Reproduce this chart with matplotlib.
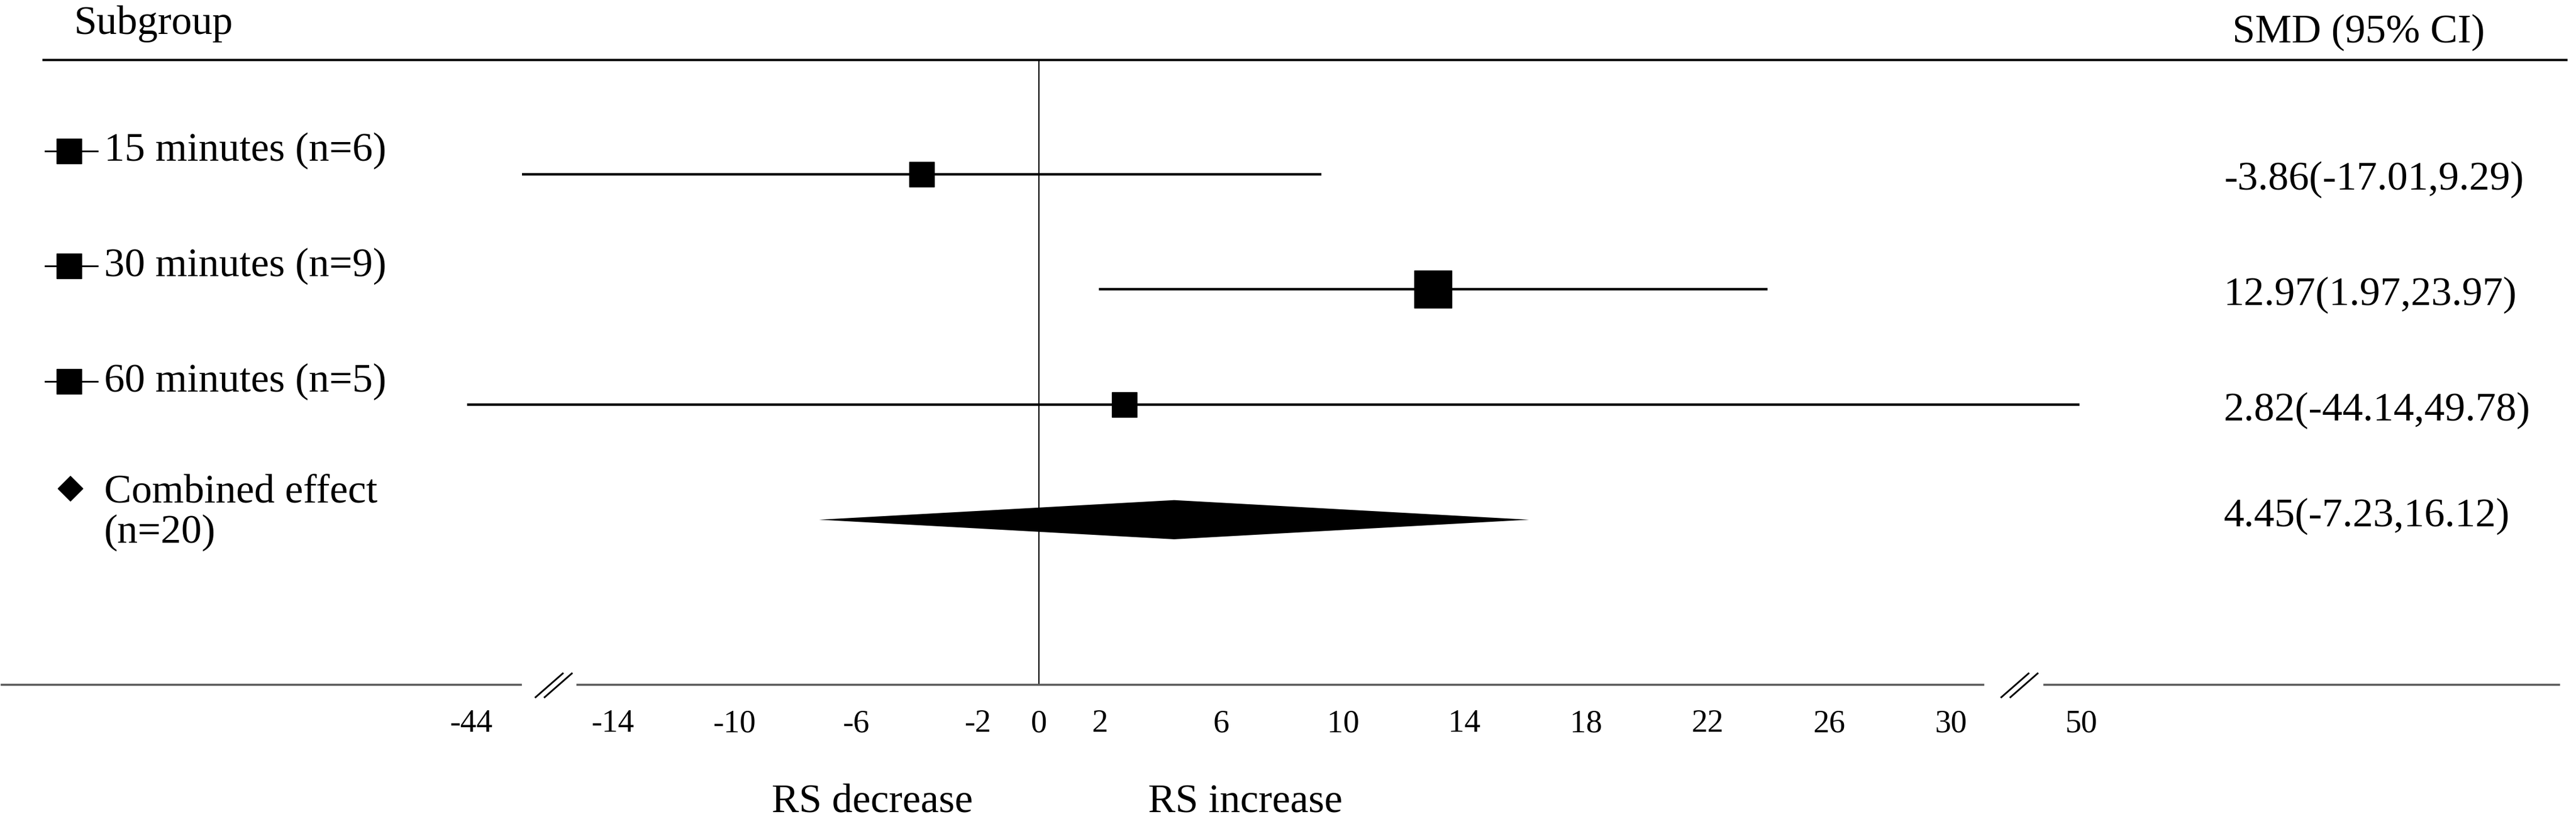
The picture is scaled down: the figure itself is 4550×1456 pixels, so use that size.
import numpy as np
import matplotlib
matplotlib.use("Agg")
import matplotlib.pyplot as plt
from matplotlib.ticker import NullLocator

plt.rcParams['font.family'] = ['Liberation Serif', 'DejaVu Serif']

# data
subgroups = ["15 minutes (n=6)", "30 minutes (n=9)", "60 minutes (n=5)"]
smd = [-3.86, 12.97, 2.82]
ci_low = [-17.01, 1.97, -44.14]
ci_high = [9.29, 23.97, 49.78]

pooled_label = "Combined effect\n(n=20)"
pooled_smd = 4.45
pooled_low = -7.23
pooled_high = 16.12

tick_values = [-44, -14, -10, -6, -2, 0, 2, 6, 10, 14, 18, 22, 26, 30, 50]
side_labels = ["RS decrease", "RS increase"]

# layout (pixels of the 4550x1456 picture)
W, H = 4550, 1456
ZERO_PX, PX_PER_UNIT = 1835, 53.7
AX_TOP, AX_BOTTOM = 106, 1210
ROW0_PX, ROW_STEP = 307.5, 203.6
FS = 52


def px_to_u(px):
    return (px - ZERO_PX) / PX_PER_UNIT


# broken axis: -44 and 50 get squeezed in beside the breaks
knot_data = np.array([-1044, -44, -17, 30, 50, 1050])
knot_u = np.array([px_to_u(833) - 1000, px_to_u(833), -17, 30,
                   px_to_u(3676), px_to_u(3676) + 1000])


def fwd(x):
    return np.interp(x, knot_data, knot_u)


def inv(u):
    return np.interp(u, knot_u, knot_data)


def fx(px):
    return px / W


def fy(py):
    return 1 - py / H


fig = plt.figure(figsize=(W / 100, H / 100), dpi=100)
ax = fig.add_axes([0, fy(AX_BOTTOM), 1, (AX_BOTTOM - AX_TOP) / H])
ax.set_xscale('function', functions=(fwd, inv))
ax.set_xlim(inv(px_to_u(0)), inv(px_to_u(W)))
ax.set_ylim((AX_BOTTOM - ROW0_PX) / ROW_STEP, (AX_TOP - ROW0_PX) / ROW_STEP)

box_pt = [31.5, 48, 32]  # box size per subgroup (points)

for i in range(len(subgroups)):
    ax.plot([ci_low[i], ci_high[i]], [i, i], color='black', lw=3.2,
            solid_capstyle='butt')
    ax.plot(smd[i], i, marker='s', ms=box_pt[i], color='black', lw=0)

r = len(subgroups)
h = 0.17
ax.fill([pooled_low, pooled_smd, pooled_high, pooled_smd],
        [r, r - h, r, r + h], color='black', lw=0)

ax.axvline(0, color='black', lw=1.6)

for s in ax.spines.values():
    s.set_visible(False)
ax.set_yticks([])
ax.set_xticks(tick_values)
ax.set_xticklabels([str(t) for t in tick_values])
ax.xaxis.set_minor_locator(NullLocator())
ax.tick_params(axis='x', length=0, pad=31, labelsize=41)

# left column
tr = ax.get_yaxis_transform()
for i, name in enumerate(subgroups):
    y = i - 0.2
    ax.plot([fx(80), fx(172)], [y, y], transform=tr, color='black', lw=2.2,
            clip_on=False)
    ax.plot(fx(122), y, transform=tr, marker='s', ms=32, color='black',
            clip_on=False)
    ax.text(fx(184), y, name, transform=tr, va='center', ha='left', fontsize=FS)

ax.plot(fx(124), r - 0.27, transform=tr, marker='D', ms=22, color='black',
        clip_on=False)
ax.text(fx(184), r - 0.06, pooled_label, transform=tr, va='center', ha='left',
        fontsize=FS, linespacing=1.1)

# right column
for i in range(len(subgroups)):
    ax.text(fx(3928), i + 0.05, f"{smd[i]:.2f}({ci_low[i]:.2f},{ci_high[i]:.2f})",
            transform=tr, va='center', ha='left', fontsize=FS)
ax.text(fx(3928), r - 0.03, f"{pooled_smd:.2f}({pooled_low:.2f},{pooled_high:.2f})",
        transform=tr, va='center', ha='left', fontsize=FS)

# headers
fig.text(fx(130), fy(60), "Subgroup", va='baseline', ha='left', fontsize=FS)
fig.text(fx(3943), fy(75), "SMD (95% CI)", va='baseline', ha='left', fontsize=FS)

# rules
ax.plot([fx(77), fx(4533)], [1, 1], transform=ax.transAxes, color='black',
        lw=3, clip_on=False)
for a, b in [(3, 920), (1020, 3503), (3611, 4520)]:
    ax.plot([fx(a), fx(b)], [0, 0], transform=ax.transAxes, color='#5a5a5a',
            lw=2.6, clip_on=False)
for x0 in [946, 3535]:
    for off in [0, 16]:
        ax.plot([fx(x0 + off), fx(x0 + off + 48)], [fy(1232), fy(1190)],
                transform=fig.transFigure, color='black', lw=2.2, clip_on=False)

fig.text(fx(1541), fy(1435), side_labels[0], ha='center', va='baseline', fontsize=FS)
fig.text(fx(2200), fy(1435), side_labels[1], ha='center', va='baseline', fontsize=FS)

fig.savefig("out.png", dpi=100)
